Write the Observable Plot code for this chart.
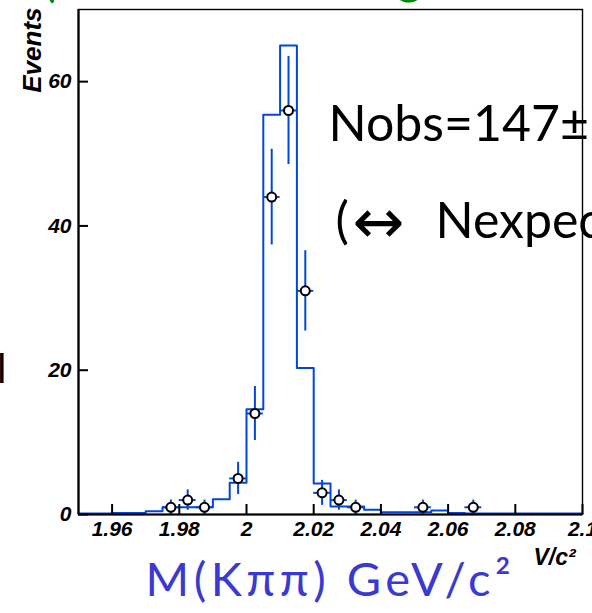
<!DOCTYPE html>
<html>
<head>
<meta charset="utf-8">
<script src="https://cdn.jsdelivr.net/npm/d3@7"></script>
<script src="https://cdn.jsdelivr.net/npm/@observablehq/plot@0.6"></script>
<style>
  html, body { margin: 0; padding: 0; background: #fff; overflow: hidden; }
  #chart svg { display: block; }
</style>
</head>
<body>
<div id="chart"></div>
<script>
// Fitted K pi pi mass shape: lower bin edges (GeV/c^2) and expected events per bin
const binStart = [
  1.950, 1.955, 1.960, 1.965, 1.970, 1.975, 1.980, 1.985, 1.990, 1.995,
  2.000, 2.005, 2.010, 2.015, 2.020, 2.025, 2.030, 2.035, 2.040, 2.045,
  2.050, 2.055, 2.060, 2.065, 2.070, 2.075, 2.080, 2.085, 2.090, 2.095
];
const binHeight = [
  0.15, 0.15, 0.2, 0.2, 0.45, 1.0, 1.0, 1.0, 2.1, 4.4,
  14.6, 55.4, 65.0, 20.3, 4.3, 1.1, 1.1, 0.65, 0.3, 0.3,
  0.3, 0.55, 0.2, 0.15, 0.15, 0.15, 0.15, 0.15, 0.15, 0.15
];
const binWidth = 0.005;
const massMax = 2.1;

// Observed candidates: bin centres (GeV/c^2) and counts
const massCentre = [1.9775, 1.9825, 1.9875, 1.9975, 2.0025, 2.0075, 2.0125,
                    2.0175, 2.0225, 2.0275, 2.0325, 2.0525, 2.0675];
const counts = [1, 2, 1, 5, 14, 44, 56, 31, 3, 2, 1, 1, 1];

const xTicks = [1.96, 1.98, 2.0, 2.02, 2.04, 2.06, 2.08, 2.1];
const yTicks = [0, 20, 40, 60];

const blue = "#0047d9";
const labelBlue = "#3a3ad2";
const green = "#008a00";
const hand = "Lato, 'Noto Sans', sans-serif";
const axisFont = "'Liberation Sans', Arial, sans-serif";

// step outline: one vertex per bin start plus the closing edge
const steps = binStart.map((x, i) => ({x, y: binHeight[i]}));
steps.push({x: massMax, y: binHeight[binHeight.length - 1]});

const points = massCentre.map((x, i) => ({x, n: counts[i]}));

const note = (text, dx, dy, opts = {}) =>
  Plot.text([text], {
    frameAnchor: "top-left", dx, dy, text: d => d,
    textAnchor: "start", lineAnchor: "bottom",
    fontFamily: hand, fontSize: 50, fontWeight: "normal", fontStyle: "normal",
    fill: "black", ...opts
  });

const axisText = {fontFamily: axisFont, fontSize: 21, fontWeight: "bold", fontStyle: "italic"};

const chart = Plot.plot({
  width: 592,
  height: 613,
  marginLeft: 78,
  marginRight: 10,
  marginTop: 9,
  marginBottom: 99,
  style: {
    fontFamily: axisFont,
    fontSize: "21px",
    fontWeight: "bold",
    fontStyle: "italic",
    background: "white",
    color: "black"
  },
  x: {domain: [1.95, 2.1]},
  y: {domain: [0, 70]},
  marks: [
    Plot.line(steps, {x: "x", y: "y", curve: "step-after", stroke: blue, strokeWidth: 2}),
    Plot.ruleX(points, {x: "x", y1: d => d.n - Math.sqrt(d.n), y2: d => d.n + Math.sqrt(d.n), stroke: blue, strokeWidth: 2}),
    Plot.ruleY(points, {y: "n", x1: d => d.x - binWidth / 2, x2: d => d.x + binWidth / 2, stroke: blue, strokeWidth: 2}),
    Plot.dot(points, {x: "x", y: "n", r: 4.5, fill: "white", stroke: "black", strokeWidth: 2}),
    Plot.frame({stroke: "black", strokeWidth: 1.4}),
    Plot.ruleX([1.95], {stroke: "black", strokeWidth: 2.2}),
    Plot.ruleY([0], {stroke: "black", strokeWidth: 2.2}),
    Plot.axisX({ticks: xTicks, tickSize: -10, tickPadding: 17, strokeWidth: 2, label: null,
                tickFormat: d => String(+d.toFixed(2)), ...axisText}),
    Plot.axisY({ticks: yTicks, tickSize: -10, tickPadding: 17, strokeWidth: 2, label: null,
                tickFormat: d => String(d), ...axisText}),
    Plot.text(["Events"], {frameAnchor: "top-left", dx: -56, dy: -2, rotate: -90,
                           textAnchor: "end", text: d => d, ...axisText, fontSize: 26}),
    Plot.text(["V/c²"], {frameAnchor: "top-left", dx: 455, dy: 555, text: d => d,
                         textAnchor: "start", lineAnchor: "bottom", ...axisText, fontSize: 23}),
    note("Nobs=147±13", 250, 131),
    note("(", 257, 228),
    note("↔", 274, 228, {fontFamily: "'DejaVu Sans', sans-serif", fontSize: 62, dy: 233}),
    note("Nexpected", 357, 228),
    note("M(Kππ) GeV/c²", 67, 586, {fill: labelBlue, fontSize: 47}),
    // lines of text running off the top and left edges
    note("(", -36, -14, {fill: green}),
    note("y", 92, -19, {fill: green}),
    note("g", 318, -17, {fill: green}),
    note("l", -72, 373, {fontSize: 40, textAnchor: "end"})
  ]
});

document.getElementById("chart").append(chart);

// widen the hand-lettered axis caption
d3.select(chart).selectAll("text")
  .filter(function () { return this.textContent === "M(Kππ) GeV/c²"; })
  .style("letter-spacing", "4.5px");
</script>
</body>
</html>
